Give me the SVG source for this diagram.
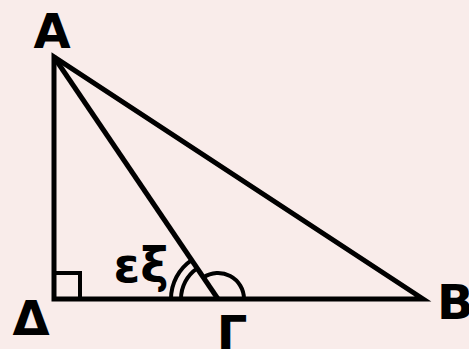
<svg xmlns="http://www.w3.org/2000/svg" width="469" height="349" viewBox="0 0 469 349">
<style>
.ln{stroke:#000;stroke-width:5;fill:none;stroke-linecap:butt;stroke-linejoin:miter;stroke-miterlimit:10}
.arc{stroke:#000;stroke-width:4;fill:none}
.lbl{font-family:"DejaVu Sans",sans-serif;font-weight:bold;font-size:48px;fill:#000}
</style>
<rect width="469" height="349" fill="#f9ecea"/>
<g id="connectors">
<polygon class="ln" points="54,57 54,299 423,299"/>
<line class="ln" x1="54" y1="57" x2="218" y2="299"/>
</g>
<g id="marks">
<polyline class="arc" points="54,273 80,273 80,299"/>
<path class="arc" d="M244,299 A26,26 0 0 0 203.4,277.5"/>
<path class="arc" d="M181,299 A37,37 0 0 1 197.2,268.4"/>
<path class="arc" d="M171,299 A47,47 0 0 1 191.6,260.1"/>
</g>
<g id="A"><text class="lbl" x="52" y="48" text-anchor="middle">A</text></g>
<g id="Delta"><text class="lbl" x="31" y="335" text-anchor="middle">Δ</text></g>
<g id="Gamma"><text class="lbl" x="232" y="350" text-anchor="middle">Γ</text></g>
<g id="B"><text class="lbl" x="437" y="319">B</text></g>
<text class="lbl" x="141" y="282" text-anchor="middle">εξ</text>
</svg>
